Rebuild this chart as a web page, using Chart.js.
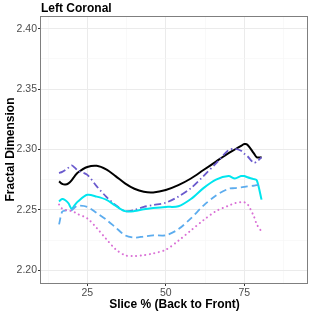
<!DOCTYPE html>
<html>
<head>
<meta charset="utf-8">
<script src="https://cdn.jsdelivr.net/npm/chart.js@4.4.1/dist/chart.umd.min.js"></script>
<style>
  html, body { margin: 0; padding: 0; background: #fff; }
  #wrap { width: 312px; height: 312px; }
</style>
</head>
<body>
<div id="wrap"><canvas id="myChart" width="312" height="312"></canvas></div>
<script>
// slice positions (%)
var slices = [16, 17, 18, 19, 20, 21, 22, 25, 28, 31, 34, 37, 40, 43, 46, 50, 54, 58, 62, 66, 70, 72, 74, 75, 76, 78, 79, 80.5];

var solidBlack = [2.2736, 2.2715, 2.2710, 2.2720, 2.2745, 2.2780, 2.2810, 2.2855, 2.2865, 2.2835, 2.2780, 2.2720, 2.2675, 2.2650, 2.2645, 2.2665, 2.2705, 2.2760, 2.2830, 2.2900, 2.2970, 2.3000, 2.3030, 2.3045, 2.3040, 2.2970, 2.2935, 2.2935];
var dashDotPurple = [2.2805, 2.2815, 2.2830, 2.2850, 2.2868, 2.2850, 2.2825, 2.2790, 2.2695, 2.2610, 2.2540, 2.2490, 2.2500, 2.2525, 2.2540, 2.2560, 2.2610, 2.2680, 2.2780, 2.2885, 2.2995, 2.3005, 2.2990, 2.2965, 2.2945, 2.2890, 2.2900, 2.2935];
var solidCyan = [2.2570, 2.2590, 2.2580, 2.2555, 2.2510, 2.2540, 2.2570, 2.2625, 2.2610, 2.2585, 2.2535, 2.2490, 2.2490, 2.2505, 2.2515, 2.2525, 2.2530, 2.2590, 2.2680, 2.2750, 2.2780, 2.2760, 2.2780, 2.2780, 2.2770, 2.2755, 2.2745, 2.2585];
var dashedBlue = [2.2380, 2.2485, 2.2495, 2.2495, 2.2497, 2.2520, 2.2535, 2.2525, 2.2475, 2.2420, 2.2355, 2.2290, 2.2270, 2.2280, 2.2290, 2.2290, 2.2340, 2.2430, 2.2535, 2.2620, 2.2675, 2.2680, 2.2687, 2.2690, 2.2695, 2.2700, 2.2705, 2.2710];
var dottedPink = [2.2545, 2.2510, 2.2500, 2.2495, 2.2490, 2.2480, 2.2465, 2.2430, 2.2350, 2.2260, 2.2175, 2.2125, 2.2118, 2.2125, 2.2140, 2.2170, 2.2245, 2.2330, 2.2415, 2.2490, 2.2535, 2.2555, 2.2565, 2.2563, 2.2550, 2.2450, 2.2380, 2.2320];

var xTicks = [12.5, 25, 37.5, 50, 62.5, 75, 87.5];
var xLabels = [25, 50, 75];
var yTicks = [2.2, 2.225, 2.25, 2.275, 2.3, 2.325, 2.35, 2.375, 2.4];
var yLabels = [2.2, 2.25, 2.3, 2.35, 2.4];

function pts(ys) {
  return slices.map(function (x, i) { return { x: x, y: ys[i] }; });
}
function isMajor(list, v) {
  return list.some(function (m) { return Math.abs(m - v) < 1e-6; });
}

var panelBorder = {
  id: 'panelBorder',
  afterDraw: function (chart) {
    var a = chart.chartArea, ctx = chart.ctx;
    ctx.save();
    ctx.strokeStyle = '#7f7f7f';
    ctx.lineWidth = 1;
    ctx.strokeRect(a.left - 0.5, a.top + 0.5, a.right - a.left, a.bottom - a.top);
    ctx.restore();
  }
};

function line(data, color, width, dash, cap) {
  return {
    data: pts(data),
    borderColor: color,
    borderWidth: width,
    borderDash: dash,
    borderCapStyle: cap || 'butt',
    pointRadius: 0,
    tension: 0.3,
    fill: false
  };
}

new Chart("myChart", {
  type: "line",
  data: {
    datasets: [
      line(dottedPink, '#DA70D6', 2, [0.1, 4.5], 'round'),
      line(dashedBlue, '#5CACEE', 1.8, [7, 4]),
      line(solidCyan, '#00E5EE', 2),
      line(dashDotPurple, '#6A5ACD', 1.8, [7, 3, 1.5, 3]),
      line(solidBlack, '#000000', 2)
    ]
  },
  plugins: [panelBorder],
  options: {
    responsive: false,
    animation: false,
    layout: { padding: { left: 0, right: 4, top: 0, bottom: 0 } },
    plugins: {
      legend: { display: false },
      tooltip: { enabled: false },
      title: {
        display: true,
        text: 'Left Coronal',
        align: 'start',
        fullSize: false,
        color: '#000',
        font: { family: 'Liberation Sans', size: 12, weight: 'bold' },
        padding: { top: 1, bottom: 0.6 }
      }
    },
    scales: {
      x: {
        type: 'linear',
        min: 10.25,
        max: 95.3,
        afterBuildTicks: function (s) { s.ticks = xTicks.map(function (v) { return { value: v }; }); },
        afterFit: function (s) { s.height = 29; },
        border: { display: false },
        grid: {
          color: function (c) { return isMajor(xLabels, c.tick.value) ? '#EBEBEB' : '#F5F5F5'; },
          lineWidth: function (c) { return isMajor(xLabels, c.tick.value) ? 1 : 0.6; },
          tickColor: function (c) { return isMajor(xLabels, c.tick.value) ? '#333333' : 'rgba(0,0,0,0)'; },
          tickLength: 3
        },
        ticks: {
          autoSkip: false,
          maxRotation: 0,
          padding: 1,
          color: '#4D4D4D',
          font: { family: 'Liberation Sans', size: 10.5 },
          callback: function (v) { return isMajor(xLabels, v) ? String(v) : ''; }
        },
        title: {
          display: true,
          text: 'Slice % (Back to Front)',
          color: '#000',
          font: { family: 'Liberation Sans', size: 12, weight: 'bold' },
          padding: { top: 0, bottom: 0 }
        }
      },
      y: {
        type: 'linear',
        min: 2.1895,
        max: 2.4105,
        afterBuildTicks: function (s) { s.ticks = yTicks.map(function (v) { return { value: v }; }); },
        afterFit: function (s) { s.width = 41; },
        border: { display: false },
        grid: {
          color: function (c) { return isMajor(yLabels, c.tick.value) ? '#EBEBEB' : '#F5F5F5'; },
          lineWidth: function (c) { return isMajor(yLabels, c.tick.value) ? 1 : 0.6; },
          tickColor: function (c) { return isMajor(yLabels, c.tick.value) ? '#333333' : 'rgba(0,0,0,0)'; },
          tickLength: 3
        },
        ticks: {
          autoSkip: false,
          padding: 1,
          color: '#4D4D4D',
          font: { family: 'Liberation Sans', size: 10.5 },
          callback: function (v) { return isMajor(yLabels, v) ? v.toFixed(2) : ''; }
        },
        title: {
          display: true,
          text: 'Fractal Dimension',
          color: '#000',
          font: { family: 'Liberation Sans', size: 12, weight: 'bold' },
          padding: { top: 3, bottom: 0 }
        }
      }
    }
  }
});
</script>
</body>
</html>
